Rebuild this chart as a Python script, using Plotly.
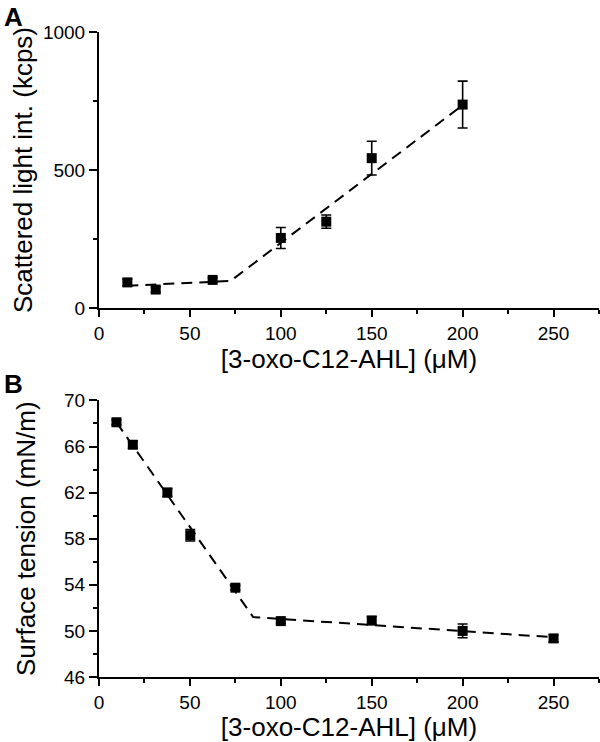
import plotly.graph_objects as go

# ---- Panel A data ----
conc_a = [15.6, 31.2, 62.5, 100, 125, 150, 200]
light = [93, 67, 102, 254, 313, 543, 737]
light_err = [12, 10, 8, 38, 24, 61, 85]
fit_a_x = [15.6, 72.3, 200]
fit_a_y = [81, 98, 735]

# ---- Panel B data ----
conc_b = [9.6, 18.6, 37.6, 50.2, 75, 100, 150, 200, 250]
tension = [68.1, 66.15, 62.0, 58.3, 53.75, 50.85, 50.9, 50.0, 49.35]
tension_err = [0.2, 0.3, 0.35, 0.5, 0.2, 0.2, 0.35, 0.6, 0.3]
fit_b_x = [9.6, 84.8, 250]
fit_b_y = [68.1, 51.2, 49.45]

x_title = "[3-oxo-C12-AHL] (μM)"
FONT = "Arial, Liberation Sans, Helvetica, sans-serif"

fig = go.Figure()

def add_panel(xs, ys, errs, fx, fy, xa, ya):
    fig.add_trace(go.Scatter(x=fx, y=fy, mode="lines", xaxis=xa, yaxis=ya,
                             line=dict(color="black", width=2, dash="11px,7px"),
                             showlegend=False, hoverinfo="skip"))
    fig.add_trace(go.Scatter(x=xs, y=ys, mode="markers", xaxis=xa, yaxis=ya,
                             marker=dict(symbol="square", size=10, color="black"),
                             error_y=dict(type="data", array=errs, visible=True,
                                          color="black", thickness=1.6, width=5),
                             showlegend=False))

add_panel(conc_a, light, light_err, fit_a_x, fit_a_y, "x", "y")
add_panel(conc_b, tension, tension_err, fit_b_x, fit_b_y, "x2", "y2")

axis_common = dict(showline=True, linecolor="black", linewidth=2, ticks="outside",
                   ticklen=8, tickwidth=2, tickcolor="black", showgrid=False,
                   zeroline=False, mirror=False, automargin=False,
                   tickfont=dict(family=FONT, size=19, color="black"),
                   title_font=dict(family=FONT, size=26, color="black"))

xaxis_cfg = dict(axis_common, range=[0, 275], tick0=0, dtick=50, ticklen=7,
                 minor=dict(ticks="outside", ticklen=4, tickwidth=1.5, dtick=25,
                            tickcolor="black", showgrid=False))

fig.update_layout(
    width=600, height=742,
    margin=dict(l=99, r=1, t=32, b=65),
    paper_bgcolor="white", plot_bgcolor="white",
    xaxis=dict(xaxis_cfg, anchor="y", title=dict(text=x_title, standoff=5)),
    yaxis=dict(axis_common, domain=[0.572, 1], range=[0, 1000], tick0=0, dtick=500,
               minor=dict(ticks="outside", ticklen=4, tickwidth=1.5, dtick=250,
                          tickcolor="black", showgrid=False),
               title=dict(text="Scattered light int. (kcps)", standoff=3)),
    xaxis2=dict(xaxis_cfg, anchor="y2", title=dict(text=x_title, standoff=9)),
    yaxis2=dict(axis_common, domain=[0, 0.4288], range=[46, 70], tick0=46, dtick=4,
                minor=dict(ticks="outside", ticklen=4, tickwidth=1.5, dtick=2,
                           tickcolor="black", showgrid=False),
                title=dict(text="Surface tension (mN/m)", standoff=21)),
    annotations=[
        dict(text="<b>A</b>", xref="paper", yref="paper", x=-0.195, y=1.024,
             xanchor="left", yanchor="middle", showarrow=False,
             font=dict(family=FONT, size=26, color="black")),
        dict(text="<b>B</b>", xref="paper", yref="paper", x=-0.195, y=0.454,
             xanchor="left", yanchor="middle", showarrow=False,
             font=dict(family=FONT, size=26, color="black")),
    ],
)

fig.write_html("out.html", config={"displayModeBar": False},
               post_script="document.body.style.margin='0';document.body.style.overflow='hidden';")
